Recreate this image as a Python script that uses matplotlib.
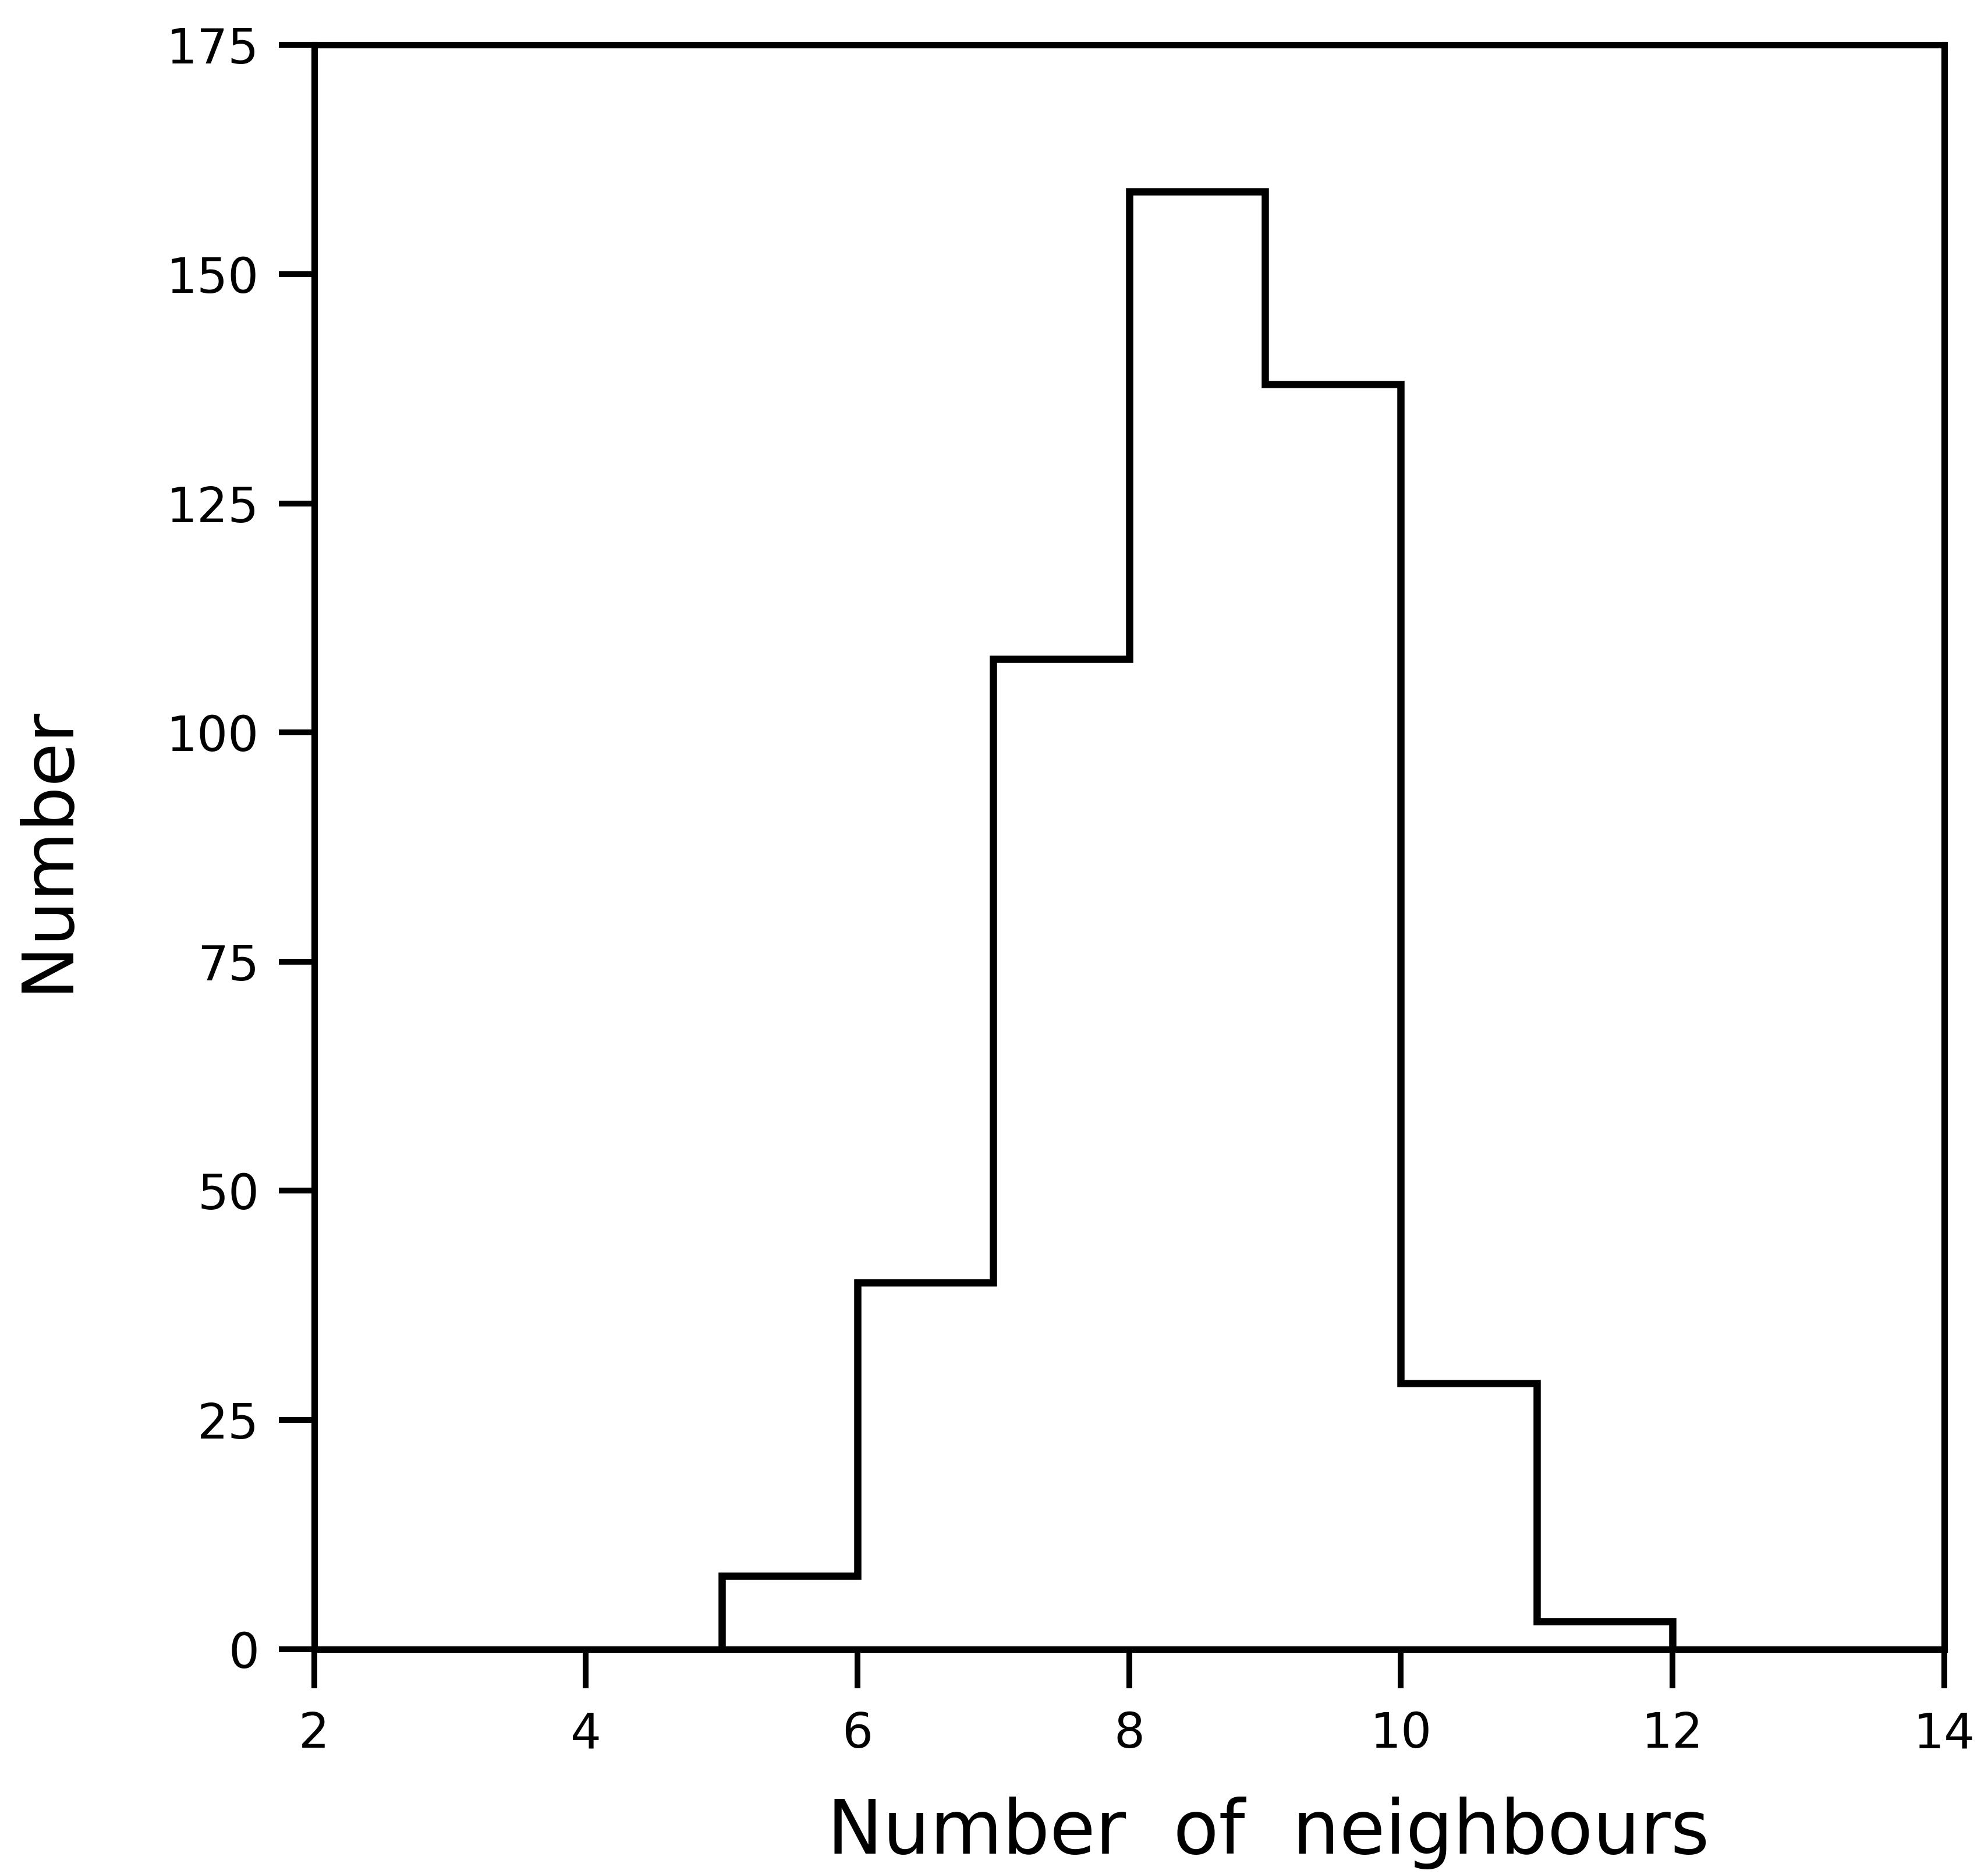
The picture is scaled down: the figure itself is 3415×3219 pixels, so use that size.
import numpy as np
import matplotlib.pyplot as plt

# histogram of neighbour counts
bin_edges = [5, 6, 7, 8, 9, 10, 11, 12]
counts = [8, 40, 108, 159, 138, 29, 3]

x_ticks = [2, 4, 6, 8, 10, 12, 14]
y_ticks = [0, 25, 50, 75, 100, 125, 150, 175]

plt.rcParams['font.family'] = ['DejaVu Sans']

fig = plt.figure(figsize=(17.075, 16.095), dpi=200)
ax = fig.add_axes([0.158, 0.120, 0.820, 0.856])

ax.stairs(counts, bin_edges, color='black', linewidth=4.5, baseline=0)

ax.set_xlim(2, 14)
ax.set_ylim(0, 175)
ax.set_xticks(x_ticks)
ax.set_yticks(y_ticks)

for side in ['left', 'right', 'top', 'bottom']:
    ax.spines[side].set_linewidth(4)

ax.tick_params(axis='both', direction='out', width=3.6, labelsize=30)
ax.tick_params(axis='y', length=22, pad=12)
ax.tick_params(axis='x', length=24, pad=14)

fig.text(0.638, 0.022, 'Number  of  neighbours', fontsize=46, ha='center', va='center')
fig.text(0.024, 0.547, 'Number', fontsize=44, rotation=90, ha='center', va='center')

fig.savefig('out.png', dpi=200, facecolor='white')
